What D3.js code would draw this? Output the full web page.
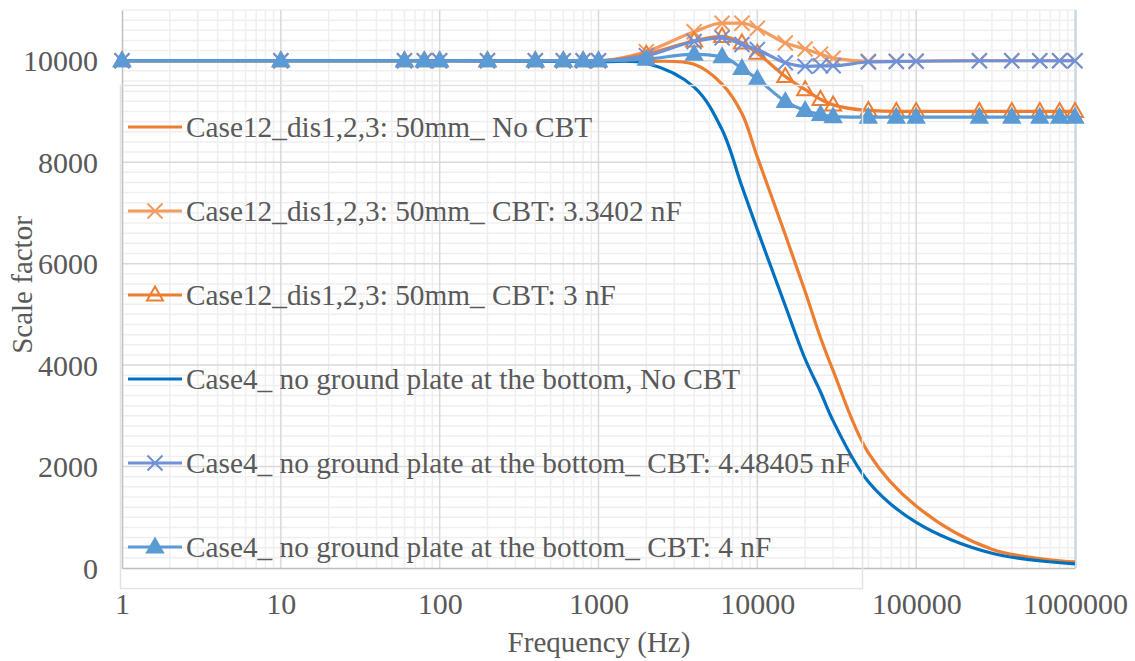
<!DOCTYPE html>
<html>
<head>
<meta charset="utf-8">
<script src="https://cdn.jsdelivr.net/npm/d3@7/dist/d3.min.js"></script>
<style>
  html, body { margin: 0; padding: 0; background: #fff; }
  svg { display: block; }
</style>
</head>
<body>
<svg id="chart" width="1135" height="661"></svg>
<script>
// Frequencies (Hz) sampled by the marker series
const markerFreq = [1, 10, 60, 80, 100, 200, 400, 600, 800, 1000, 2000, 4000, 6000, 8000,
  10000, 15000, 20000, 25000, 30000, 50000, 75000, 100000, 250000, 400000, 600000, 800000, 1000000];

// Frequencies (Hz) of the smooth "No CBT" curves
const smoothFreq = [1, 10, 100, 1000, 2000, 4000, 6000, 8000, 10000, 15000, 20000, 25000, 30000,
  50000, 100000, 300000, 1000000];

const case12NoCbt = [10000, 10000, 10000, 10000, 9990, 9930, 9540, 8960, 8100, 6570, 5450, 4540, 3890,
  2270, 1220, 370, 120];
const case12Cbt33402 = [10000, 10000, 10000, 10000, 10000, 10000, 10000, 10000, 10000, 10000,
  10180, 10570, 10740, 10740, 10640, 10350, 10230, 10130, 10050, 9990, 9990, 9990, 10000, 10000, 10000, 10000, 10000];
const case12Cbt3 = [10000, 10000, 10000, 10000, 10000, 10000, 10000, 10000, 10000, 10000,
  10130, 10390, 10480, 10350, 10150, 9690, 9430, 9240, 9130, 9020, 9000, 9000, 9000, 9000, 9000, 9000, 9000];
const case4NoCbt = [10000, 10000, 10000, 9980, 9950, 9480, 8640, 7520, 6670, 5170, 4120, 3470, 2900,
  1700, 900, 290, 80];
const case4Cbt448405 = [10000, 10000, 10000, 10000, 10000, 10000, 10000, 10000, 10000, 10000,
  10100, 10380, 10450, 10320, 10220, 9960, 9890, 9900, 9900, 9975, 9985, 9990, 10000, 10000, 10000, 10000, 10000];
const case4Cbt4 = [10000, 10000, 10000, 10000, 10000, 10000, 10000, 10000, 10000, 10000,
  10030, 10130, 10080, 9850, 9640, 9200, 9020, 8940, 8900, 8890, 8890, 8890, 8890, 8890, 8890, 8890, 8890];

const xTickValues = [1, 10, 100, 1000, 10000, 100000, 1000000];
const yTickValues = [0, 2000, 4000, 6000, 8000, 10000];

const seriesList = [
  { name: "Case12_dis1,2,3: 50mm_ No CBT", freq: smoothFreq, values: case12NoCbt, color: "#ED7D31", marker: null },
  { name: "Case12_dis1,2,3: 50mm_ CBT: 3.3402 nF", freq: markerFreq, values: case12Cbt33402, color: "#F39C5F", marker: "x" },
  { name: "Case12_dis1,2,3: 50mm_ CBT: 3 nF", freq: markerFreq, values: case12Cbt3, color: "#ED7D31", marker: "triOpen" },
  { name: "Case4_ no ground plate at the bottom, No CBT", freq: smoothFreq, values: case4NoCbt, color: "#0070C0", marker: null },
  { name: "Case4_ no ground plate at the bottom_ CBT: 4.48405 nF", freq: markerFreq, values: case4Cbt448405, color: "#6F91D8", marker: "x" },
  { name: "Case4_ no ground plate at the bottom_ CBT: 4 nF", freq: markerFreq, values: case4Cbt4, color: "#5B9BD5", marker: "triFilled" }
];

const FONT = "'Liberation Serif', 'Times New Roman', Times, 'DejaVu Serif', serif";
const TEXT_COLOR = "#595959";

const svg = d3.select("#chart");
const plotLeft = 122, plotRight = 1075, plotTop = 10, plotBottom = 568;

const x = d3.scaleLog().domain([1, 1000000]).range([plotLeft, plotRight]);
const y = d3.scaleLinear().domain([0, 11000]).range([plotBottom, plotTop]);

// Grid: minor lines first, then major lines
const grid = svg.append("g");
const minorX = [];
for (let d = 1; d < 1000000; d *= 10) for (let k = 2; k <= 9; k++) minorX.push(d * k);
grid.selectAll(".mx").data(minorX).join("line")
  .attr("x1", d => x(d)).attr("x2", d => x(d)).attr("y1", plotTop).attr("y2", plotBottom)
  .attr("stroke", "#efefef").attr("stroke-width", 1.5);
const minorY = d3.range(200, 11001, 200).filter(v => v % 2000 !== 0);
grid.selectAll(".my").data(minorY).join("line")
  .attr("x1", plotLeft).attr("x2", plotRight).attr("y1", d => y(d)).attr("y2", d => y(d))
  .attr("stroke", "#efefef").attr("stroke-width", 1.5);
grid.selectAll(".Mx").data(xTickValues.slice(1)).join("line")
  .attr("x1", d => x(d)).attr("x2", d => x(d)).attr("y1", plotTop).attr("y2", plotBottom)
  .attr("stroke", "#d9d9d9").attr("stroke-width", 1.5);
grid.selectAll(".My").data(yTickValues.slice(1)).join("line")
  .attr("x1", plotLeft).attr("x2", plotRight).attr("y1", d => y(d)).attr("y2", d => y(d))
  .attr("stroke", "#d9d9d9").attr("stroke-width", 1.5);

// Right edge of the plot area
svg.append("line").attr("x1", plotRight + 1).attr("x2", plotRight + 1).attr("y1", plotTop).attr("y2", plotBottom)
  .attr("stroke", "#bdd7ee").attr("stroke-width", 1.5);

// Axes
const xAxis = d3.axisBottom(x).tickValues(xTickValues).tickFormat(d3.format("d")).tickSize(0).tickPadding(0);
const gx = svg.append("g").attr("transform", `translate(0,${plotBottom})`).call(xAxis)
  .attr("font-family", null).attr("font-size", null);
gx.select(".domain").attr("stroke", "#bfbfbf").attr("stroke-width", 1.5);
gx.selectAll("text").attr("dy", null).attr("y", 46)
  .style("font-family", FONT).style("font-size", "30px").style("fill", TEXT_COLOR);

const yAxis = d3.axisLeft(y).tickValues(yTickValues).tickFormat(d3.format("d")).tickSize(0).tickPadding(0);
const gy = svg.append("g").attr("transform", `translate(${plotLeft},0)`).call(yAxis)
  .attr("font-family", null).attr("font-size", null);
gy.select(".domain").attr("stroke", "#bfbfbf").attr("stroke-width", 1.5);
gy.selectAll("text").attr("x", -24).attr("dy", "0.34em")
  .style("font-family", FONT).style("font-size", "30px").style("fill", TEXT_COLOR);

svg.append("text").attr("x", 599).attr("y", 652).attr("text-anchor", "middle")
  .style("font-family", FONT).style("font-size", "29px").style("fill", TEXT_COLOR).text("Frequency (Hz)");
svg.append("text").attr("transform", "translate(32,285) rotate(-90)").attr("text-anchor", "middle")
  .style("font-family", FONT).style("font-size", "29px").style("fill", TEXT_COLOR).text("Scale factor");

// Series
const smoothLine = d3.line().x(d => x(d[0])).y(d => y(d[1])).curve(d3.curveCatmullRom.alpha(0.5));
const markerLine = d3.line().x(d => x(d[0])).y(d => y(d[1])).curve(d3.curveMonotoneX);

function drawMarker(g, type, color, cx, cy) {
  if (type === "x") {
    const s = 7.5;
    g.append("path").attr("d", `M${cx - s},${cy - s}L${cx + s},${cy + s}M${cx - s},${cy + s}L${cx + s},${cy - s}`)
      .attr("stroke", color).attr("stroke-width", 2).attr("fill", "none");
  } else if (type === "triOpen" || type === "triFilled") {
    const w = 8, h = 14;
    g.append("path").attr("d", `M${cx},${cy - h * 0.6}L${cx + w},${cy + h * 0.4}L${cx - w},${cy + h * 0.4}Z`)
      .attr("stroke", color).attr("stroke-width", 2).attr("stroke-linejoin", "miter")
      .attr("fill", type === "triFilled" ? color : "none");
  }
}

seriesList.forEach(s => {
  const pts = s.freq.map((f, i) => [f, s.values[i]]);
  const g = svg.append("g");
  g.append("path").datum(pts).attr("d", s.marker ? markerLine : smoothLine)
    .attr("fill", "none").attr("stroke", s.color).attr("stroke-width", 3.2).attr("stroke-linejoin", "round");
  if (s.marker) pts.forEach(p => drawMarker(g, s.marker, s.color, x(p[0]), y(p[1])));
});

// Legend
const legend = svg.append("g");
legend.append("rect").attr("x", 120.5).attr("y", 85.5).attr("width", 742).attr("height", 503)
  .attr("fill", "none").attr("stroke", "#e3e3e3").attr("stroke-width", 1.5);
const legendRows = [127, 211, 295, 379, 463, 547];
seriesList.forEach((s, i) => {
  const ly = legendRows[i];
  legend.append("line").attr("x1", 128).attr("x2", 182).attr("y1", ly).attr("y2", ly)
    .attr("stroke", s.color).attr("stroke-width", 3.2);
  if (s.marker) drawMarker(legend, s.marker, s.color, 155, ly);
  legend.append("text").attr("x", 186).attr("y", ly + 10)
    .style("font-family", FONT).style("font-size", "29.3px").style("fill", TEXT_COLOR).text(s.name);
});
</script>
</body>
</html>
